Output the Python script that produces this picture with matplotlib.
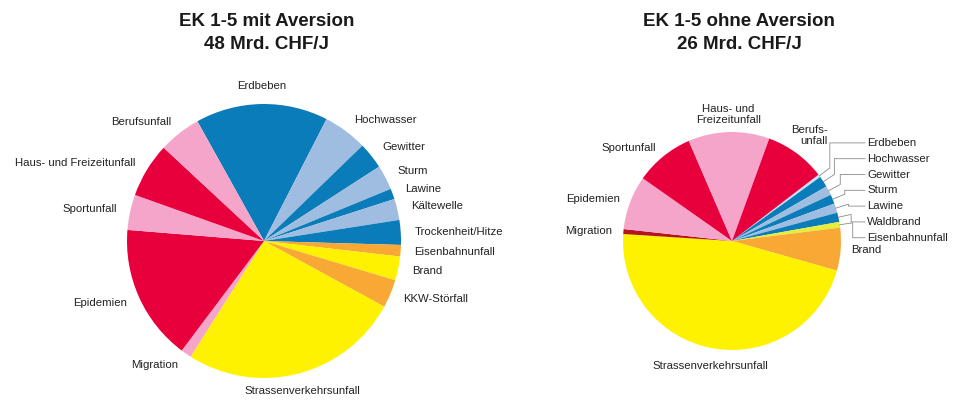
import numpy as np
import matplotlib
matplotlib.use("Agg")
import matplotlib.pyplot as plt

plt.rcParams['font.family'] = ['Liberation Sans', 'DejaVu Sans']

# ---------------- data ----------------
titles = ["EK 1-5 mit Aversion\n48 Mrd. CHF/J", "EK 1-5 ohne Aversion\n26 Mrd. CHF/J"]

labels_l = ["Erdbeben", "Hochwasser", "Gewitter", "Sturm", "Lawine", "Kältewelle",
            "Trockenheit/Hitze", "Eisenbahnunfall", "Brand", "KKW-Störfall",
            "Strassenverkehrsunfall", "Migration", "Epidemien", "Sportunfall",
            "Haus- und Freizeitunfall", "Berufsunfall"]
values_l = [7.5, 2.5, 1.5, 1.4, 0.6, 1.2, 1.4, 0.65, 1.35, 1.6, 12.5, 0.6, 7.7, 2.0, 3.1, 2.4]

labels_r = ["Erdbeben", "Hochwasser", "Gewitter", "Sturm", "Lawine", "Waldbrand",
            "Eisenbahnunfall", "Brand", "Strassenverkehrsunfall", "Migration",
            "Epidemien", "Sportunfall", "Haus- und\nFreizeitunfall", "Berufs-\nunfall"]
values_r = [0.11, 0.43, 0.36, 0.36, 0.36, 0.36, 0.22, 1.65, 12.13, 0.19, 2.08, 2.28, 3.13, 2.35]
n_small_r = 7  # first slices of the right pie labelled with leader lines

# ---------------- style ----------------
D = "#0a7cb9"   # dark blue
L = "#9ebde0"   # light blue
PL = "#c9def1"  # pale blue
R = "#e8003d"   # red
P = "#f5a5c9"   # pink
Y = "#fff200"   # yellow
O = "#f8a834"   # orange
DR = "#b3141f"  # dark red

colors_l = [D, L, D, L, D, L, D, O, Y, O, Y, P, R, P, R, P]
colors_r = [PL, D, L, D, L, D, "#e6ee3a", O, Y, DR, P, R, P, R]

W, H = 962, 401
fig = plt.figure(figsize=(W / 100, H / 100), dpi=100)
fig.patch.set_facecolor("white")

FS = 8.2


def make_axes(px0, px1, cx, cy, r):
    ax = fig.add_axes([px0 / W, 0, (px1 - px0) / W, 1])
    return ax, (-(cx - px0) / r, (px1 - cx) / r), (-(H - cy) / r, cy / r)


def place(ax, xl, yl):
    ax.set_xlim(*xl)
    ax.set_ylim(*yl)
    ax.set_aspect("auto")
    ax.axis("off")


# ---------------- left pie ----------------
axl, xl, yl = make_axes(0, 481, 264, 241, 137)
wl, _ = axl.pie(values_l, colors=colors_l, startangle=119.1, counterclock=False,
                wedgeprops=dict(linewidth=0))
for w, lab in zip(wl, labels_l):
    th = np.deg2rad((w.theta1 + w.theta2) / 2)
    c, s = np.cos(th), np.sin(th)
    d = 1.1
    if abs(c) < 0.3:
        ha = "center"
        d = 1.13
    else:
        ha = "left" if c > 0 else "right"
    axl.text(d * c, d * s, lab, ha=ha, va="center", fontsize=FS, color="#222222")
place(axl, xl, yl)

# ---------------- right pie ----------------
axr, xr, yr = make_axes(481, 962, 732, 241, 109)
wr, _ = axr.pie(values_r, colors=colors_r, startangle=37.5, counterclock=False,
                wedgeprops=dict(linewidth=0))
for i, (w, lab) in enumerate(zip(wr, labels_r)):
    th = np.deg2rad((w.theta1 + w.theta2) / 2)
    c, s = np.cos(th), np.sin(th)
    if i < n_small_r:
        ly = 0.90 - 0.145 * i
        xs = [c * 1.0, c * 1.12, c * 1.12, 1.22]
        ys = [s * 1.0, s * 1.12, ly, ly]
        axr.plot(xs, ys, color="#8a8a8a", lw=0.6)
        axr.text(1.24, ly, lab, ha="left", va="center", fontsize=FS, color="#222222")
        continue
    d = 1.1
    ma = "center"
    if abs(c) < 0.3:
        ha = "center"
        d = 1.16
    elif "\n" in lab:
        ha = "center"
        d = 1.2
        ma = "right"
    else:
        ha = "left" if c > 0 else "right"
    axr.text(d * c, d * s, lab, ha=ha, va="center", fontsize=FS, color="#222222",
             multialignment=ma, linespacing=1.1)
place(axr, xr, yr)

# ---------------- titles ----------------
for t, cx in zip(titles, [267, 739]):
    fig.text(cx / W, 1 - 33 / H, t, ha="center", va="center", fontsize=13.5,
             fontweight="bold", color="#1a1a1a", linespacing=1.5)

fig.savefig("out.png", dpi=100, facecolor="white")
